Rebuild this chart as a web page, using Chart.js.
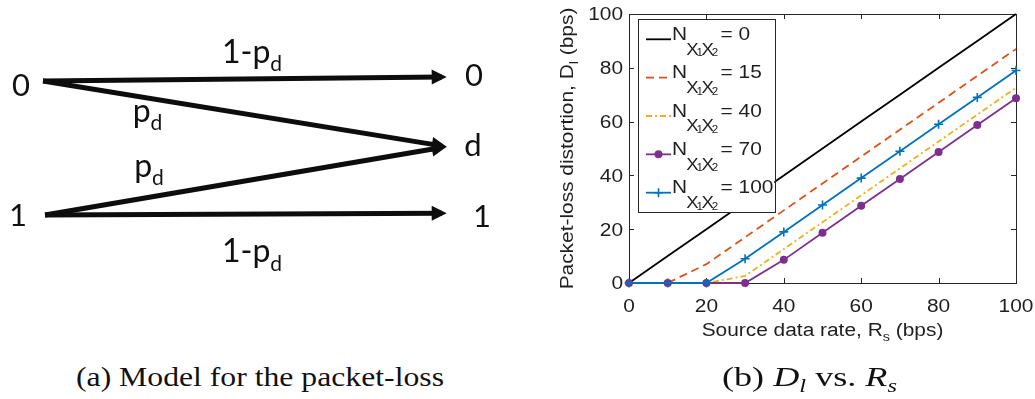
<!DOCTYPE html>
<html>
<head>
<meta charset="utf-8">
<script src="https://cdn.jsdelivr.net/npm/chart.js@4.4.1/dist/chart.umd.min.js"></script>
<style>
  html, body { margin: 0; padding: 0; background: #fff; width: 1035px; height: 399px; overflow: hidden; }
  #modelWrap { position: absolute; left: 0; top: 0; width: 540px; height: 300px; filter: blur(0.5px); }
  #distWrap  { position: absolute; left: 540px; top: 0; width: 495px; height: 399px; }
  .cap { position: absolute; top: 363px; font-family: "Liberation Serif", "DejaVu Serif", serif; font-size: 28px;
         line-height: 1; white-space: nowrap; color: #111; transform-origin: 0 0; }
  .cap i { font-style: italic; }
  .cap .sb { position: relative; top: 6px; font-size: 19px; font-style: italic; }
</style>
</head>
<body>
<div id="modelWrap"><canvas id="model" width="540" height="300"></canvas></div>
<div id="distWrap"><canvas id="dist" width="495" height="399"></canvas></div>
<div class="cap" id="capA" style="left:76px">(a) Model for the packet-loss</div>
<div class="cap" id="capB" style="left:722px">(b) <i>D</i><span class="sb">l</span> vs. <i>R</i><span class="sb">s</span></div>

<script>
// ---------------- Packet-loss model (erasure channel) ----------------
// Arrow shafts: start point and shaft end (the arrowhead continues past the end)
const edgeStartX = [43, 43, 45, 45];
const edgeStartY = [81, 81, 215, 215];
const edgeEndX   = [441.7, 441.8, 441.8, 441.7];
const edgeEndY   = [77, 145.9, 147.5, 213.3];

// Input / output symbols
const nodeText  = ['0', '1', '0', 'd', '1'];
const nodeX     = [21, 18, 474, 473, 482];
const nodeBaseY = [96, 226, 86, 156, 227];

// Transition probabilities (main text + subscript "d")
const probText  = ['1-p', 'p', 'p', '1-p'];
const probCx    = [252, 147.5, 149, 252];
const probBaseY = [62.5, 121.5, 176.5, 262];
const probSub   = 'd';

// ---------------- Packet-loss distortion vs. source rate ----------------
const rates  = [0, 10, 20, 30, 40, 50, 60, 70, 80, 90, 100];   // R_s (bps)
const seriesN = [0, 15, 40, 70, 100];                           // N_{X1X2}
const dN0   = [0, 10, 20, 30, 40, 50, 60, 70, 80, 90, 100];
const dN15  = [0, 0, 7, 17, 27, 37, 47, 57, 67, 77, 87];
const dN40  = [0, 0, 0, 2.6, 12.6, 22.6, 32.6, 42.6, 52.6, 62.6, 72.6];
const dN70  = [0, 0, 0, 0, 8.6, 18.7, 28.7, 38.7, 48.7, 58.7, 68.7];
const dN100 = [0, 0, 0, 9, 19, 29, 39, 49, 59, 69, 79];
const xTicks = [0, 20, 40, 60, 80, 100];
const yTicks = [0, 20, 40, 60, 80, 100];

const distValues = [dN0, dN15, dN40, dN70, dN100];
const lineStyles = [
  { color: '#000000', dash: [],           point: false,    radius: 0 },
  { color: '#D95319', dash: [8, 5],       point: false,    radius: 0 },
  { color: '#EDB120', dash: [6, 3, 2, 3], point: false,    radius: 0 },
  { color: '#7E2F8E', dash: [],           point: 'circle', radius: 3.2 },
  { color: '#0072BD', dash: [],           point: 'cross',  radius: 4.5 }
];

const AXIS = '#1f1f1f';
const SANS = '"Liberation Sans", Arial, Helvetica, sans-serif';
const DIAG = 'Lato, "Open Sans", sans-serif';
const STRETCH = 1.16;   // the axis lettering is set wide
const FS = 18;          // axis font size

// ---------- diagram: arrowheads and labels ----------
const modelDecor = {
  id: 'modelDecor',
  afterDatasetsDraw(chart) {
    const ctx = chart.ctx;
    ctx.save();
    ctx.fillStyle = '#0d0d0d';
    chart.data.datasets.forEach((ds, i) => {
      const pts = chart.getDatasetMeta(i).data;
      const a = pts[0], b = pts[pts.length - 1];
      const dx = b.x - a.x, dy = b.y - a.y, len = Math.hypot(dx, dy);
      const ux = dx / len, uy = dy / len;
      const tipX = b.x + 5 * ux, tipY = b.y + 5 * uy;
      const bx = tipX - 15 * ux, by = tipY - 15 * uy;
      ctx.beginPath();
      ctx.moveTo(tipX, tipY);
      ctx.lineTo(bx - 7.5 * uy, by + 7.5 * ux);
      ctx.lineTo(bx + 7.5 * uy, by - 7.5 * ux);
      ctx.closePath();
      ctx.fill();
    });
    const xs = chart.scales.x, ys = chart.scales.y;
    ctx.fillStyle = '#111';
    ctx.textBaseline = 'alphabetic';
    ctx.textAlign = 'center';
    ctx.font = '31px ' + DIAG;
    nodeText.forEach((t, i) => {
      ctx.fillText(t, xs.getPixelForValue(nodeX[i]), ys.getPixelForValue(nodeBaseY[i]));
    });
    ctx.textAlign = 'left';
    probText.forEach((t, i) => {
      ctx.font = '32px ' + DIAG;
      const w1 = ctx.measureText(t).width;
      ctx.font = '21px ' + DIAG;
      const w2 = ctx.measureText(probSub).width;
      const x0 = xs.getPixelForValue(probCx[i]) - (w1 + w2) / 2;
      const y0 = ys.getPixelForValue(probBaseY[i]);
      ctx.font = '32px ' + DIAG;
      ctx.fillText(t, x0, y0);
      ctx.font = '21px ' + DIAG;
      ctx.fillText(probSub, x0 + w1, y0 + 8.5);
    });
    ctx.restore();
  }
};

new Chart(document.getElementById('model'), {
  type: 'scatter',
  data: {
    datasets: edgeStartX.map((x0, i) => ({
      data: [{ x: x0, y: edgeStartY[i] }, { x: edgeEndX[i], y: edgeEndY[i] }],
      showLine: true,
      borderColor: '#0d0d0d',
      borderWidth: 5,
      borderCapStyle: 'butt',
      pointRadius: 0,
      clip: false
    }))
  },
  options: {
    responsive: false, animation: false, devicePixelRatio: 1,
    layout: { padding: 0 },
    plugins: { legend: { display: false }, tooltip: { enabled: false } },
    scales: {
      x: { type: 'linear', display: false, min: 0, max: 540 },
      y: { type: 'linear', display: false, min: 0, max: 300, reverse: true }
    }
  },
  plugins: [modelDecor]
});

// ---------- wide sans text helpers ----------
function textW(ctx, t, size) {
  ctx.font = size + 'px ' + SANS;
  return ctx.measureText(t).width * STRETCH;
}
function fillWide(ctx, t, size, x, y, align) {
  const w = textW(ctx, t, size);
  const x0 = align === 'center' ? x - w / 2 : align === 'right' ? x - w : x;
  ctx.save();
  ctx.translate(x0, y);
  ctx.scale(STRETCH, 1);
  ctx.textAlign = 'left';
  ctx.fillText(t, 0, 0);
  ctx.restore();
  return w;
}
// parts: [text, fontSize, baselineShift]
function partsW(ctx, parts) {
  return parts.reduce((w, [t, s]) => w + textW(ctx, t, s), 0);
}
function fillParts(ctx, parts, x, y) {
  let cx = x;
  parts.forEach(([t, s, dy]) => { cx += fillWide(ctx, t, s, cx, y + dy, 'left'); });
}

const distDecor = {
  id: 'distDecor',
  beforeDatasetsDraw(chart) {
    const { ctx, chartArea: a } = chart;
    const xs = chart.scales.x, ys = chart.scales.y;
    ctx.save();
    ctx.strokeStyle = '#262626';
    ctx.lineWidth = 1;
    ctx.strokeRect(Math.round(a.left) + 0.5, Math.round(a.top) + 0.5,
                   Math.round(a.right - a.left), Math.round(a.bottom - a.top));
    ctx.beginPath();
    xTicks.forEach(v => {
      const px = Math.round(xs.getPixelForValue(v)) + 0.5;
      ctx.moveTo(px, a.bottom); ctx.lineTo(px, a.bottom - 5);
      ctx.moveTo(px, a.top);    ctx.lineTo(px, a.top + 5);
    });
    yTicks.forEach(v => {
      const py = Math.round(ys.getPixelForValue(v)) + 0.5;
      ctx.moveTo(a.left, py);  ctx.lineTo(a.left + 5, py);
      ctx.moveTo(a.right, py); ctx.lineTo(a.right - 5, py);
    });
    ctx.stroke();

    // tick labels
    ctx.fillStyle = AXIS;
    ctx.textBaseline = 'alphabetic';
    xTicks.forEach(v => fillWide(ctx, String(v), FS, xs.getPixelForValue(v), a.bottom + 28.5, 'center'));
    yTicks.forEach(v => fillWide(ctx, String(v), FS, a.left - 6, ys.getPixelForValue(v) + 6.4, 'right'));
    ctx.restore();
  },
  afterDraw(chart) {
    const { ctx, chartArea: a } = chart;
    ctx.save();
    ctx.fillStyle = AXIS;
    ctx.textBaseline = 'alphabetic';

    // x-axis title
    const xt = [['Source data rate, R', FS, 0], ['s', 12.5, 5], [' (bps)', FS, 0]];
    fillParts(ctx, xt, (a.left + a.right) / 2 - partsW(ctx, xt) / 2, 335.5);

    // y-axis title (rotated)
    const yt = [['Packet-loss distortion, D', FS, 0], ['l', 12.5, 5], [' (bps)', FS, 0]];
    ctx.save();
    ctx.translate(33, (a.top + a.bottom) / 2);
    ctx.rotate(-Math.PI / 2);
    fillParts(ctx, yt, -partsW(ctx, yt) / 2, 0);
    ctx.restore();

    // legend
    const bx = 97.7, by = 19, bw = 136.6, bh = 193.3;
    ctx.fillStyle = '#fff';
    ctx.fillRect(bx, by, bw, bh);
    ctx.strokeStyle = '#262626';
    ctx.lineWidth = 1;
    ctx.strokeRect(Math.round(bx) + 0.5, Math.round(by) + 0.5, Math.round(bw), Math.round(bh));
    chart.data.datasets.forEach((ds, i) => {
      const ly = 39.3 + i * 38.35;
      ctx.save();
      ctx.strokeStyle = ds.borderColor;
      ctx.lineWidth = ds.borderWidth;
      ctx.setLineDash(ds.borderDash || []);
      ctx.beginPath();
      ctx.moveTo(106, ly); ctx.lineTo(131, ly);
      ctx.stroke();
      ctx.setLineDash([]);
      if (ds.pointRadius > 0) {
        ctx.fillStyle = ds.pointBackgroundColor;
        ctx.strokeStyle = ds.pointBorderColor;
        ctx.lineWidth = ds.pointBorderWidth;
        Chart.helpers.drawPoint(ctx, { pointStyle: ds.pointStyle, radius: ds.pointRadius, rotation: 0, borderWidth: ds.pointBorderWidth }, 118.5, ly);
      }
      ctx.restore();
      ctx.fillStyle = AXIS;
      const x0 = 132;
      fillWide(ctx, 'N', FS, x0, ly + 0.7, 'left');
      fillWide(ctx, 'X', 16, x0 + 14.2, ly + 15.2, 'left');
      fillWide(ctx, '1', 10, x0 + 24.6, ly + 17, 'left');
      fillWide(ctx, 'X', 16, x0 + 29.4, ly + 15.2, 'left');
      fillWide(ctx, '2', 10, x0 + 39.8, ly + 17, 'left');
      fillWide(ctx, '= ' + seriesN[i], FS, x0 + 48.6, ly + 0.7, 'left');
    });
    ctx.restore();
  }
};

new Chart(document.getElementById('dist'), {
  type: 'line',
  data: {
    datasets: seriesN.map((n, i) => ({
      label: 'N = ' + n,
      data: rates.map((r, k) => ({ x: r, y: distValues[i][k] })),
      borderColor: lineStyles[i].color,
      borderDash: lineStyles[i].dash,
      borderWidth: 1.8,
      pointStyle: lineStyles[i].point,
      pointRadius: lineStyles[i].radius,
      pointBackgroundColor: lineStyles[i].color,
      pointBorderColor: lineStyles[i].color,
      pointBorderWidth: 1.6,
      tension: 0,
      fill: false,
      clip: false,
      order: seriesN.length - 1 - i
    }))
  },
  options: {
    responsive: false, animation: false, devicePixelRatio: 1,
    layout: { padding: { left: 0, right: 19, top: 14, bottom: 0 } },
    plugins: { legend: { display: false }, tooltip: { enabled: false } },
    scales: {
      x: {
        type: 'linear', min: 0, max: 100,
        grid: { display: false, drawTicks: false }, border: { display: false },
        afterBuildTicks: s => { s.ticks = xTicks.map(v => ({ value: v })); },
        afterFit: s => { s.height = 116; },
        ticks: { display: false }
      },
      y: {
        type: 'linear', min: 0, max: 100,
        grid: { display: false, drawTicks: false }, border: { display: false },
        afterBuildTicks: s => { s.ticks = yTicks.map(v => ({ value: v })); },
        afterFit: s => { s.width = 89; },
        ticks: { display: false }
      }
    }
  },
  plugins: [distDecor]
});

// captions: stretch the serif text to its set width
function fitCaption(id, width) {
  const el = document.getElementById(id);
  el.style.transform = 'scaleX(' + (width / el.getBoundingClientRect().width) + ')';
}
fitCaption('capA', 368);
fitCaption('capB', 175);
</script>
</body>
</html>
